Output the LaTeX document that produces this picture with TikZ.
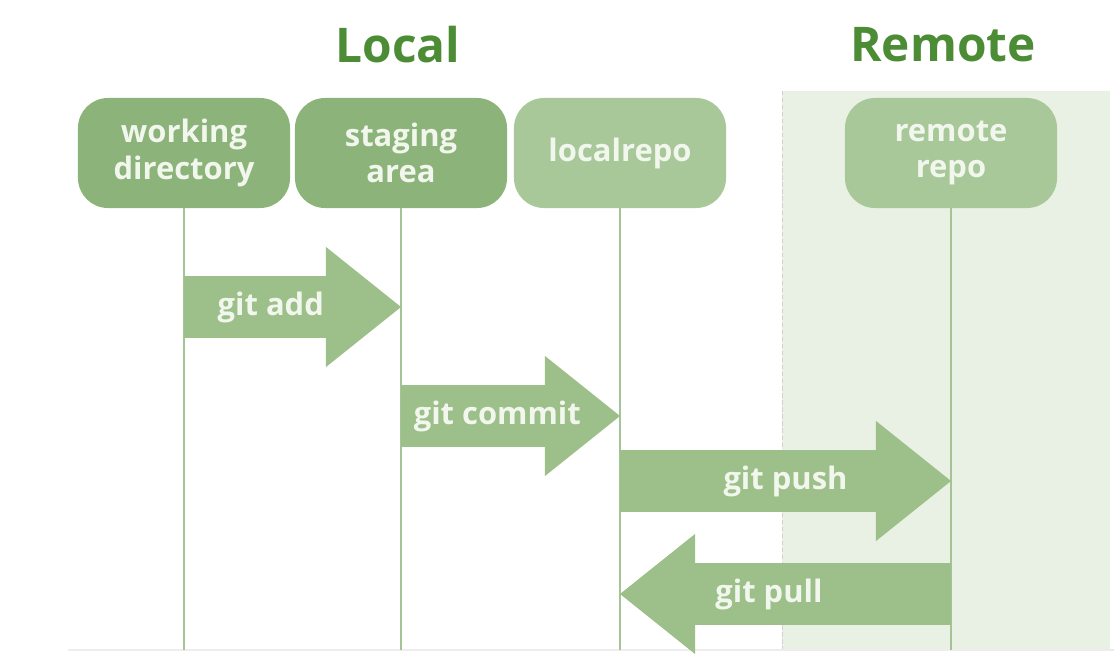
\documentclass[tikz,border=0pt]{standalone}
\usepackage{fontspec}
\setmainfont{Open Sans}
\usetikzlibrary{arrows.meta}

\definecolor{boxdark}{HTML}{8CB37A}
\definecolor{boxlight}{HTML}{A8C89A}
\definecolor{flowclr}{HTML}{9DBF8A}
\definecolor{lineclr}{HTML}{A5C496}
\definecolor{labeltext}{HTML}{F2F7EE}
\definecolor{titleclr}{HTML}{4C8C35}
\definecolor{remotebg}{HTML}{E9F1E5}

\begin{document}
\begin{tikzpicture}[x=0.025cm,y=-0.025cm,font=\bfseries\fontsize{22}{26}\selectfont]

\tikzset{
    stage/.style={rounded corners=0.75cm, minimum width=5.3cm, minimum height=2.75cm,
        align=center, text=labeltext, inner sep=0pt},
    lifeline/.style={draw=lineclr, line width=1.4pt},
    flow/.style={draw=flowclr, line width=1.55cm,
        -{Triangle[length=1.875cm, width=3cm, line width=0pt]}},
    flowlabel/.style={text=labeltext},
    titletext/.style={text=titleclr, font=\bfseries\fontsize{34}{40}\selectfont},
}
\useasboundingbox (0,0) rectangle (1114,662);

% Remote area
\fill[remotebg] (782,91) rectangle (1110,650);
\draw[black!18, dash pattern=on 3pt off 2pt] (782,91) -- (782,650);
\draw[black!7, line width=2pt] (68,650) -- (1114,650);
\coordinate (base) at (0,650);

% Titles
\node[titletext] (localtitle) at (398,45) {Local};
\node[titletext] (remotetitle) at (943,45) {Remote};

% Stages
\node[stage, fill=boxdark] (wd) at (184,153) {working\\directory};
\node[stage, fill=boxdark] (sa) at (401,153) {staging\\area};
\node[stage, fill=boxlight] (lr) at (620,153) {localrepo};
\node[stage, fill=boxlight] (rr) at (951,153) {remote\\repo};

% Lifelines
\foreach \n in {wd,sa,lr,rr}
    \draw[lifeline] (\n.south) -- (\n.south |- base);

% Commands
\draw[flow] (wd.south |- 0,307) -- (sa.south |- 0,307)
    node[flowlabel, pos=0.4] (add) {git add};
\draw[flow] (sa.south |- 0,416) -- (lr.south |- 0,416)
    node[flowlabel, pos=0.44] (commit) {git commit};
\draw[flow] (lr.south |- 0,481) -- (rr.south |- 0,481)
    node[flowlabel, pos=0.5] (push) {git push};
\draw[flow] (rr.south |- 0,594) -- (lr.south |- 0,594)
    node[flowlabel, pos=0.55] (pull) {git pull};
\end{tikzpicture}
\end{document}
